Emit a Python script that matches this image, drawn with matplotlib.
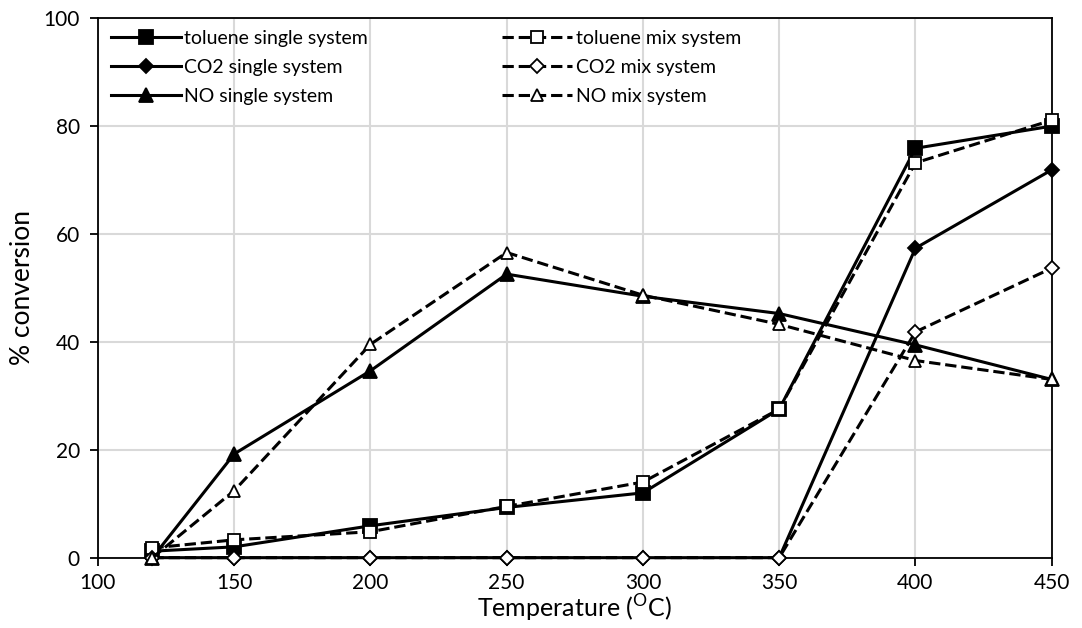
import matplotlib

matplotlib.use("Agg")

import matplotlib.pyplot as plt

plt.rcParams["font.family"] = ["Lato", "DejaVu Sans"]
plt.rcParams["mathtext.fontset"] = "custom"
plt.rcParams["mathtext.rm"] = "Lato"

temps = [120, 150, 200, 250, 300, 350, 400, 450]
toluene_single = [1.2, 2.0, 5.9, 9.3, 12.0, 27.5, 75.8, 79.9]
toluene_mix = [1.8, 3.3, 4.8, 9.5, 14.0, 27.5, 73.1, 81.0]
co2_single = [0, 0, 0, 0, 0, 0, 57.3, 71.8]
co2_mix = [0, 0, 0, 0, 0, 0, 41.8, 53.6]
no_single = [0, 19.2, 34.6, 52.5, 48.4, 45.2, 39.4, 33.0]
no_mix = [0, 12.4, 39.5, 56.5, 48.6, 43.2, 36.5, 33.0]

x_ticks = [100, 150, 200, 250, 300, 350, 400, 450]
y_ticks = [0, 20, 40, 60, 80, 100]

fig, ax = plt.subplots(figsize=(10.82, 6.28), dpi=100)
fig.subplots_adjust(left=0.0905, right=0.972, top=0.972, bottom=0.112)

series = [
    (toluene_single, "toluene single system", "-", "s", "black", 10),
    (co2_single, "CO2 single system", "-", "D", "black", 7),
    (no_single, "NO single system", "-", "^", "black", 10),
    (toluene_mix, "toluene mix system", "--", "s", "white", 8.5),
    (co2_mix, "CO2 mix system", "--", "D", "white", 7),
    (no_mix, "NO mix system", "--", "^", "white", 8.5),
]

handles = {}
for values, label, ls, marker, face, ms in series:
    (line,) = ax.plot(
        temps,
        values,
        color="black",
        linestyle=ls,
        linewidth=2.2,
        marker=marker,
        markersize=ms,
        markerfacecolor=face,
        markeredgecolor="black",
        markeredgewidth=1.3,
        label=label,
        clip_on=False,
        zorder=3,
    )
    handles[label] = line

ax.set_xlim(100, 450)
ax.set_ylim(0, 100)
ax.set_xticks(x_ticks)
ax.set_yticks(y_ticks)
ax.grid(True, color="#d9d9d9", linewidth=1.5, zorder=0)
ax.set_axisbelow(True)
ax.tick_params(labelsize=15, length=6, width=1.3, direction="out", pad=7)
ax.tick_params(axis="x", pad=5)
for spine in ax.spines.values():
    spine.set_linewidth(1.3)
    spine.set_color("black")

ax.set_xlabel("Temperature ($^{\\mathrm{O}}$C)", fontsize=18, labelpad=0)
ax.set_ylabel("% conversion", fontsize=19, labelpad=6)

order = [
    "toluene single system",
    "CO2 single system",
    "NO single system",
    "toluene mix system",
    "CO2 mix system",
    "NO mix system",
]
ax.legend(
    [handles[k] for k in order],
    order,
    loc="upper left",
    ncol=2,
    frameon=False,
    fontsize=14,
    handlelength=3.6,
    handletextpad=0.2,
    columnspacing=6.9,
    labelspacing=0.6,
    borderaxespad=0.2,
    borderpad=0.45,
)

fig.savefig("out.png", dpi=100)
